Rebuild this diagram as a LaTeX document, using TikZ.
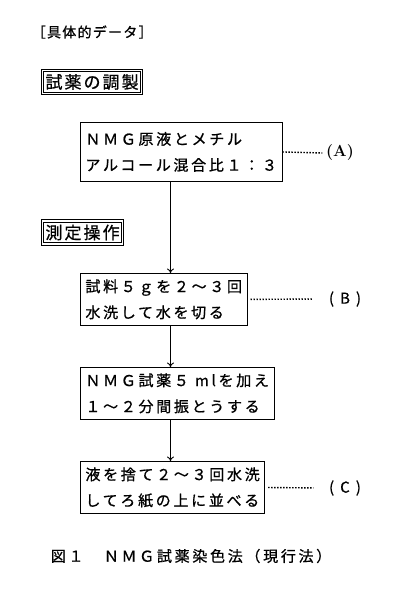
\documentclass[tikz,border=0pt]{standalone}
\usepackage{fontspec}
\newfontfamily\jp[LetterSpace=18,FakeBold=0.8]{Noto Sans CJK JP}
\newfontfamily\jphead[LetterSpace=12,FakeBold=0.8]{Noto Sans CJK JP}
\newfontfamily\jptitle[LetterSpace=9,FakeBold=0.8]{Noto Sans CJK JP}
\usetikzlibrary{positioning,arrows.meta}

\begin{document}
\begin{tikzpicture}[x=1pt,y=-1pt,line width=0.9pt,
  step box/.style={draw,align=left,anchor=north west,inner xsep=5pt,inner ysep=6pt,font=\jp\fontsize{15}{26}\selectfont},
  head box/.style={draw,double,double distance=1.3pt,line width=1pt,anchor=west,inner xsep=3pt,inner ysep=3.5pt,font=\jphead\fontsize{17}{20}\selectfont},
  note/.style={font=\jp\fontsize{15}{18}\selectfont},
  leader/.style={line width=1.4pt,dash pattern=on 1.4pt off 1.6pt},
  flow/.style={-{To[length=4.5pt,width=7pt]}}]
  \useasboundingbox (0,0) rectangle (400,598);

  \node[anchor=west,font=\jptitle\fontsize{14}{18}\selectfont] (title) at (28,32) {［具体的データ］};

  \node[head box] (prep) at (42,82) {試薬の調製};
  \node[step box,minimum height=59pt] (a) at (80,122) {ＮＭＧ原液とメチル\\アルコール混合比１：３};

  \node[head box] (meas) at (42,232.5) {測定操作};
  \node[step box] (b) at (80,273) {試料５ｇを２～３回\\水洗して水を切る};
  \node[step box] (c) at (80,367) {ＮＭＧ試薬５ mlを加え\\１～２分間振とうする};
  \node[step box] (d) at (80,461) {液を捨て２～３回水洗\\してろ紙の上に並べる};

  \node[font=\bfseries\fontsize{16}{18}\selectfont] (la) at (340,153) {(A)};
  \node[note] (lb) at (345,299) {( B )};
  \node[note] (lc) at (345,488) {( C )};

  \node[anchor=west,note] (cap) at (47,556) {図１　ＮＭＧ試薬染色法（現行法）};

  \coordinate (spine) at (170.5,0);
  \draw[flow] (a.south -| spine) -- (b.north -| spine);
  \draw[flow] (b.south -| spine) -- (c.north -| spine);
  \draw[flow] (c.south -| spine) -- (d.north -| spine);

  \draw[leader] (a.east) -- (la.west);
  \draw[leader,shorten >=12pt] (b.east) ++(3pt,0) -- (lb.west);
  \draw[leader,shorten >=12pt] (d.east) ++(3pt,0) -- (lc.west);
\end{tikzpicture}
\end{document}
